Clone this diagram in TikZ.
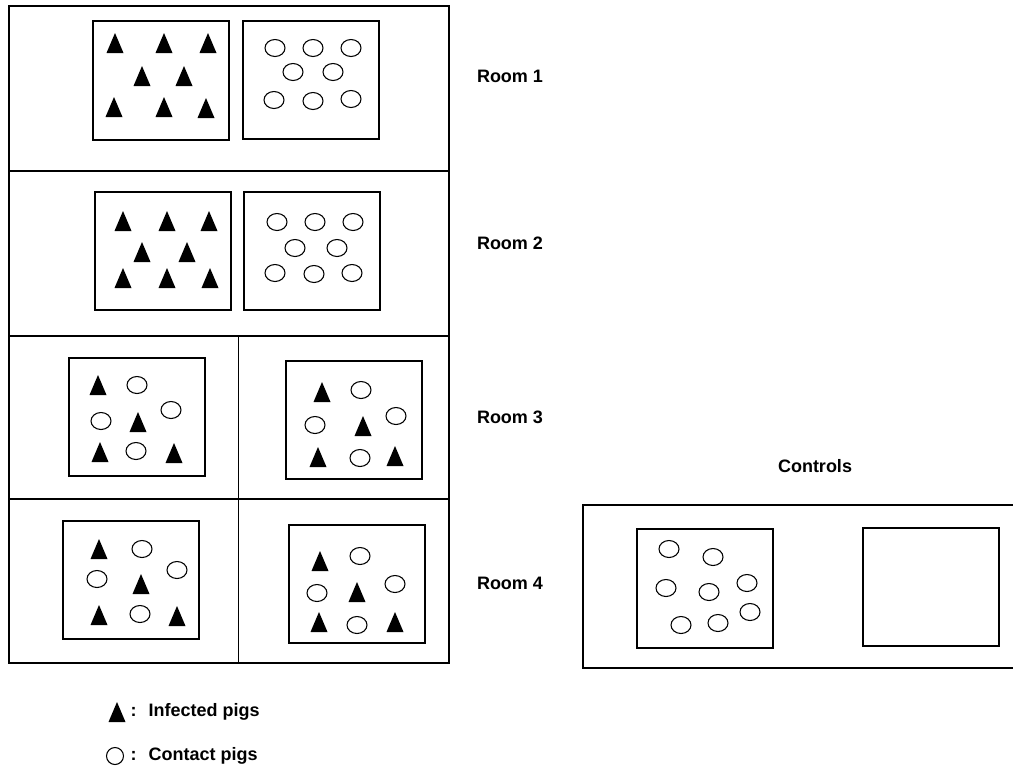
\documentclass[tikz,border=0pt]{standalone}
\usepackage{fontspec}
\setmainfont{Liberation Sans}

\begin{document}
\begin{tikzpicture}[x=0.75pt,y=-0.75pt,line width=0.9pt,
	lbl/.style={font=\fontsize{13.5}{16}\selectfont\bfseries,inner sep=0pt},
	inf/.pic={\fill (0,-10) -- (8.5,10) -- (-8.5,10) -- cycle;},
	cont/.pic={\draw[line width=0.8pt] (0,0) ellipse (10 and 8.5);}]
			\useasboundingbox (0,0) rectangle (1013,765);
			
			% rooms
			\draw (9,6) rectangle (449,663);
			\draw (9,171) -- (449,171);
			\draw (9,336) -- (449,336);
			\draw (9,499) -- (449,499);
			\draw (238.5,336) -- (238.5,663);
			
			% pens
			\draw (93,21) rectangle (229,140);
			\draw (243,21) rectangle (379,139);
			\draw (95,192) rectangle (231,310);
			\draw (244,192) rectangle (380,310);
			\draw (69,358) rectangle (205,476);
			\draw (286,361) rectangle (422,479);
			\draw (63,521) rectangle (199,639);
			\draw (289,525) rectangle (425,643);
			
			% controls
			\draw (1016,505) -- (583,505) -- (583,668) -- (1016,668);
			\draw (637,529) rectangle (773,648);
			\draw (863,528) rectangle (999,646);
			
			% infected pigs
			\foreach \x/\y in {115/43,164/43,208/43,142/76,184/76,114/107,164/107,206/108,
				123/221,167/221,209/221,142/252,187/252,123/278,167/278,210/278,
				98/385,138/422,100/452,174/453,322/392,363/426,318/457,395/456,
				99/549,141/584,99/615,177/616,320/561,357/592,319/622,395/622}
				\pic at (\x,\y) {inf};
			
			% contact pigs
			\foreach \x/\y in {275/48,313/48,351/48,293/72,333/72,274/100,313/101,351/99,
				277/222,315/222,353/222,295/248,337/248,275/273,314/274,352/273,
				137/385,101/421,171/410,136/451,361/390,315/425,396/416,360/458,
				142/549,97/579,177/570,140/614,360/556,317/593,395/584,357/625,
				669/549,713/557,666/588,709/592,747/583,681/625,718/623,750/612}
				\pic at (\x,\y) {cont};
			
			\node[lbl] (room1) at (510,76) {Room 1};
			\node[lbl] (room2) at (510,243) {Room 2};
			\node[lbl] (room3) at (510,417) {Room 3};
			\node[lbl] (room4) at (510,583) {Room 4};
			\node[lbl] (ctrl) at (815,466) {Controls};
			
			% legend
			\pic at (117,712) {inf};
			\draw[line width=0.8pt] (115,756) circle (8.5);
			\node[lbl,anchor=west] (leginf) at (130,712) {:\hspace{9pt}Infected pigs};
			\node[lbl,anchor=west] (legcont) at (130,756) {:\hspace{9pt}Contact pigs};
		\end{tikzpicture}
\end{document}
